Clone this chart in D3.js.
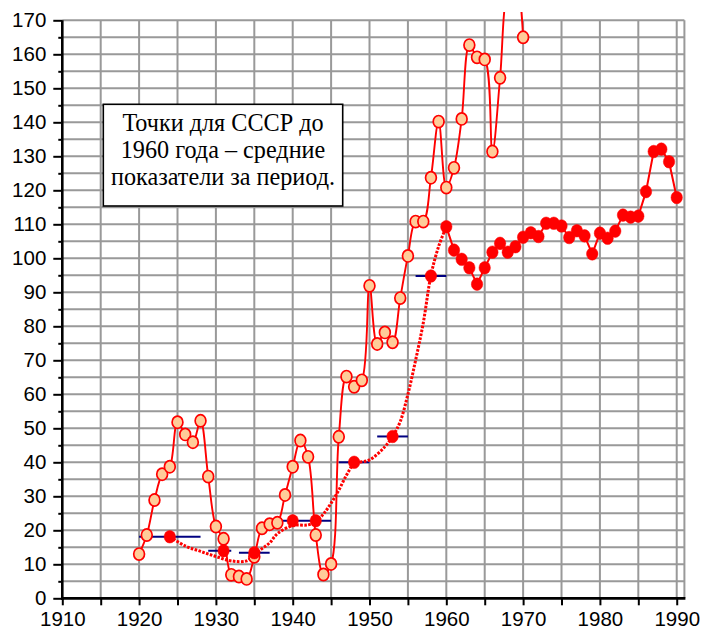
<!DOCTYPE html>
<html>
<head>
<meta charset="utf-8">
<script src="https://cdn.jsdelivr.net/npm/d3@7"></script>
<style>
  html, body { margin: 0; padding: 0; background: #fff; }
  svg { display: block; }
</style>
</head>
<body>
<svg id="chart" width="704" height="634"></svg>
<script>
// Annual index series (open markers), 1920–1970
const openYears = [1920,1921,1922,1923,1924,1925,1926,1927,1928,1929,1930,1931,1932,1933,1934,1935,1936,1937,1938,1939,1940,1941,1942,1943,1944,1945,1946,1947,1948,1949,1950,1951,1952,1953,1954,1955,1956,1957,1958,1959,1960,1961,1962,1963,1964,1965,1966,1967,1968,1969,1970];
const openValues = [13.0,18.6,28.9,36.5,38.7,51.8,48.2,45.9,52.2,35.8,21.1,17.5,6.9,6.4,5.7,12.2,20.6,21.8,22.2,30.4,38.7,46.4,41.6,18.6,7.0,10.1,47.5,65.2,62.2,64.1,91.9,74.8,78.2,75.3,88.3,100.7,110.8,110.8,123.7,140.2,120.8,126.6,141.0,162.7,159.1,158.5,131.4,153.1,180.0,184.0,165.0];

// USSR: period averages before 1960 (filled markers placed inside each period)
const avgYears = [1924,1931,1935,1940,1943,1948,1953,1958];
const avgValues = [18.1,14.0,13.4,22.8,22.8,40.0,47.6,94.8];

// Averaging periods drawn as horizontal bars
const periodStart = [1920,1929,1933,1938.5,1946,1951,1956];
const periodEnd   = [1928,1932,1937,1945,1950,1955,1960];
const periodValue = [18.1,14.0,13.4,22.8,40.0,47.6,94.8];

// Smoothed trend through the averaged period, 1924–1960
const trendYears = [1924,1926,1928,1930,1932,1934,1935,1936,1937,1938,1940,1942,1943,1944,1945,1946,1947,1948,1950,1952,1953,1954,1955,1956,1957,1958,1959,1960];
const trendValues = [18.1,15.4,13.8,12.3,11.0,11.0,12.8,14.6,16.3,19.0,21.4,21.6,22.6,24.8,28.0,31.8,36.2,39.5,40.7,44.6,47.6,52.0,60.0,70.0,81.0,95.0,103.5,109.3];

// USSR annual values from 1960
const ussrYears = [1960,1961,1962,1963,1964,1965,1966,1967,1968,1969,1970,1971,1972,1973,1974,1975,1976,1977,1978,1979,1980,1981,1982,1983,1984,1985,1986,1987,1988,1989,1990];
const ussrValues = [109.3,102.4,99.7,97.2,92.4,97.2,101.8,104.4,101.8,103.4,106.2,107.5,106.4,110.3,110.3,109.5,106.1,108.1,106.6,101.3,107.4,105.9,108.0,112.7,112.1,112.4,119.6,131.4,132.1,128.4,117.9];

// Axis ticks
const xTickLabels = [1910,1920,1930,1940,1950,1960,1970,1980,1990];
const yTickLabels = [0,10,20,30,40,50,60,70,80,90,100,110,120,130,140,150,160,170];

const noteLines = ["Точки для СССР до", "1960 года – средние", "показатели за период."];

const svg = d3.select("#chart");
const plotLeft = 62.3, plotRight = 684.4, plotTop = 20.3, plotBottom = 598.3;

const x = d3.scaleLinear().domain([1910, 1991]).range([plotLeft, plotRight]);
const y = d3.scaleLinear().domain([0, 170]).range([plotBottom, plotTop]);

const gridColor = "#999999";
const red = "#ff0000";

// Grid: every 5 years / every 5 units
const grid = svg.append("g");
grid.selectAll("line.v").data(d3.range(1915, 1991, 5).concat([1991])).join("line")
  .attr("x1", d => x(d)).attr("x2", d => x(d))
  .attr("y1", plotTop).attr("y2", plotBottom)
  .attr("stroke", gridColor).attr("stroke-width", 2);
grid.selectAll("line.h").data(d3.range(5, 171, 5)).join("line")
  .attr("x1", plotLeft).attr("x2", plotRight)
  .attr("y1", d => y(d)).attr("y2", d => y(d))
  .attr("stroke", gridColor).attr("stroke-width", 2);

// Axes
const font = "'Liberation Sans', Arial, sans-serif";
const yAxis = d3.axisLeft(y).tickValues(yTickLabels).tickSize(9).tickPadding(7).tickFormat(d3.format("d"));
const yg = svg.append("g").attr("transform", `translate(${plotLeft},0)`).call(yAxis);
yg.select(".domain").remove();
yg.selectAll(".tick line").attr("stroke", "#000").attr("stroke-width", 2);
yg.selectAll(".tick text").attr("font-family", font).attr("font-size", "20.5px").attr("fill", "#000");

const yMinor = d3.axisLeft(y).tickValues(d3.range(5, 170, 10)).tickSize(4).tickFormat("");
const ymg = svg.append("g").attr("transform", `translate(${plotLeft},0)`).call(yMinor);
ymg.select(".domain").remove();
ymg.selectAll(".tick line").attr("stroke", "#000").attr("stroke-width", 2);

const xAxis = d3.axisBottom(x).tickValues(d3.range(1910, 1991, 5)).tickSize(7).tickPadding(6)
  .tickFormat(d => xTickLabels.includes(d) ? String(d) : "");
const xg = svg.append("g").attr("transform", `translate(0,${plotBottom})`).call(xAxis);
xg.select(".domain").remove();
xg.selectAll(".tick line").attr("stroke", "#000").attr("stroke-width", 2);
xg.selectAll(".tick text").attr("font-family", font).attr("font-size", "20.5px").attr("fill", "#000");

svg.append("line").attr("x1", plotLeft).attr("x2", plotLeft).attr("y1", plotTop).attr("y2", plotBottom + 1.5)
  .attr("stroke", "#000").attr("stroke-width", 2.6);
svg.append("line").attr("x1", plotLeft - 1.3).attr("x2", plotRight + 1).attr("y1", plotBottom).attr("y2", plotBottom)
  .attr("stroke", "#000").attr("stroke-width", 2.8);

// Clip for series (slightly taller than the plot area)
svg.append("clipPath").attr("id", "plotClip")
  .append("rect").attr("x", plotLeft).attr("y", 12).attr("width", plotRight - plotLeft).attr("height", plotBottom - 12);

const plot = svg.append("g").attr("clip-path", "url(#plotClip)");

// Period-average bars
plot.selectAll("line.period").data(periodStart.map((s, i) => ({s, e: periodEnd[i], v: periodValue[i]}))).join("line")
  .attr("x1", d => x(d.s)).attr("x2", d => x(d.e))
  .attr("y1", d => y(d.v)).attr("y2", d => y(d.v))
  .attr("stroke", "#000080").attr("stroke-width", 2);

// Dotted smoothed trend
const trendPts = trendYears.map((t, i) => [t, trendValues[i]]);
plot.append("path")
  .attr("d", d3.line().x(d => x(d[0])).y(d => y(d[1])).curve(d3.curveCatmullRom.alpha(0.5))(trendPts))
  .attr("fill", "none").attr("stroke", red).attr("stroke-width", 3)
  .attr("stroke-dasharray", "2.6,1.4");

// Annual series, smoothed line with open markers
const openPts = openYears.map((t, i) => [t, openValues[i]]);
plot.append("path")
  .attr("d", d3.line().x(d => x(d[0])).y(d => y(d[1])).curve(d3.curveCatmullRom.alpha(0.5))(openPts))
  .attr("fill", "none").attr("stroke", red).attr("stroke-width", 1.9);
plot.selectAll("ellipse.open").data(openPts.filter(d => d[1] <= 170)).join("ellipse")
  .attr("cx", d => x(d[0])).attr("cy", d => y(d[1]))
  .attr("rx", 5.4).attr("ry", 6.1)
  .attr("fill", "#ffcc99").attr("stroke", red).attr("stroke-width", 1.7);

// USSR annual line from 1960
const ussrPts = ussrYears.map((t, i) => [t, ussrValues[i]]);
plot.append("path")
  .attr("d", d3.line().x(d => x(d[0])).y(d => y(d[1]))(ussrPts))
  .attr("fill", "none").attr("stroke", red).attr("stroke-width", 2);

// Filled markers: period averages and annual values
const filledPts = avgYears.map((t, i) => [t, avgValues[i]]).concat(ussrPts);
plot.selectAll("ellipse.filled").data(filledPts).join("ellipse")
  .attr("cx", d => x(d[0])).attr("cy", d => y(d[1]))
  .attr("rx", 5.7).attr("ry", 6.3)
  .attr("fill", red).attr("stroke", red).attr("stroke-width", 0.5);

// Note box
const note = svg.append("g");
note.append("rect").attr("x", 103.3).attr("y", 104.3).attr("width", 239.4).attr("height", 101.7)
  .attr("fill", "#fff").attr("stroke", "#000").attr("stroke-width", 1.6);
note.selectAll("text").data(noteLines).join("text")
  .attr("x", 223).attr("y", (d, i) => 130.5 + i * 27.2)
  .attr("text-anchor", "middle")
  .attr("font-family", "'Liberation Serif', 'Times New Roman', serif")
  .attr("font-size", "24.2px").attr("fill", "#000")
  .text(d => d);
</script>
</body>
</html>
